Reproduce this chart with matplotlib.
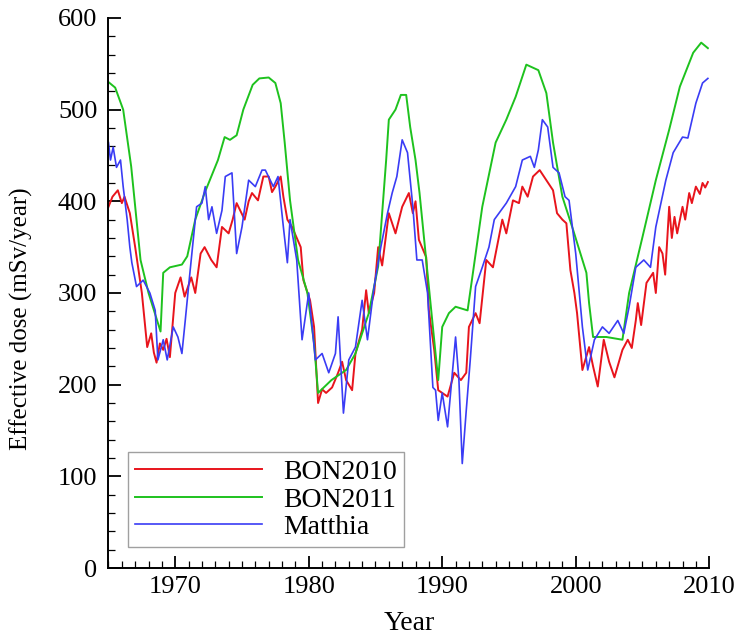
import matplotlib
matplotlib.use("Agg")
import matplotlib.pyplot as plt
from matplotlib.ticker import MultipleLocator

# === Donnees ===
bon2011_years = [1965.0, 1965.5, 1966.1, 1966.7, 1967.4, 1968.0, 1968.9, 1969.1, 1969.6, 1970.5,
                 1970.9, 1971.5, 1972.2, 1973.2, 1973.7, 1974.1, 1974.6, 1975.1, 1975.8, 1976.3,
                 1977.0, 1977.5, 1977.9, 1978.2, 1978.6, 1979.2, 1979.9, 1980.4, 1980.7, 1981.7,
                 1982.8, 1983.5, 1984.5, 1985.2, 1985.8, 1986.0, 1986.5, 1986.9, 1987.3, 1987.6,
                 1988.0, 1988.3, 1988.8, 1989.3, 1989.7, 1990.0, 1990.5, 1991.0, 1991.9, 1992.3,
                 1993.0, 1994.0, 1994.8, 1995.5, 1996.3, 1997.2, 1997.8, 1998.3, 1999.0, 1999.8,
                 2000.8, 2001.0, 2001.3, 2002.3, 2003.5, 2004.0, 2005.0, 2006.0, 2007.0, 2007.8,
                 2008.8, 2009.4, 2009.9]
bon2011_vals = [530, 524, 500, 438, 336, 300, 258, 322, 328, 331,
                340, 380, 409, 445, 470, 467, 472, 500, 527, 534,
                535, 529, 507, 464, 401, 336, 300, 245, 191, 205,
                216, 234, 278, 329, 445, 489, 500, 516, 516, 481,
                445, 409, 336, 263, 205, 263, 278, 285, 281, 322,
                394, 464, 489, 514, 549, 543, 518, 464, 405, 369,
                322, 289, 252, 252, 249, 300, 361, 423, 478, 525,
                562, 573, 567]

bon2010_years = [1965.0, 1965.3, 1965.7, 1966.0, 1966.2, 1966.6, 1967.0, 1967.5, 1967.9, 1968.2,
                 1968.4, 1968.6, 1968.85, 1969.1, 1969.35, 1969.6, 1970.0, 1970.4, 1970.7, 1971.2,
                 1971.5, 1971.9, 1972.2, 1972.7, 1973.1, 1973.5, 1974.0, 1974.3, 1974.6, 1975.2,
                 1975.5, 1975.75, 1976.2, 1976.6, 1977.0, 1977.25, 1977.5, 1977.9, 1978.1, 1978.4,
                 1978.75, 1979.1, 1979.4, 1979.6, 1980.1, 1980.4, 1980.7, 1981.0, 1981.3, 1981.75,
                 1982.2, 1982.5, 1982.8, 1983.25, 1983.5, 1984.0, 1984.3, 1984.5, 1984.9, 1985.2,
                 1985.5, 1986.0, 1986.5, 1987.0, 1987.5, 1987.8, 1988.0, 1988.25, 1988.8, 1989.0,
                 1989.4, 1989.7, 1990.4, 1990.9, 1991.4, 1991.8, 1992.0, 1992.5, 1992.8, 1993.3,
                 1993.8, 1994.5, 1994.8, 1995.3, 1995.75, 1996.0, 1996.4, 1996.8, 1997.3, 1997.8,
                 1998.3, 1998.6, 1999.0, 1999.3, 1999.6, 1999.9, 2000.1, 2000.5, 2001.0, 2001.3,
                 2001.65, 2002.1, 2002.5, 2002.9, 2003.5, 2003.9, 2004.2, 2004.5, 2004.65, 2004.9,
                 2005.3, 2005.8, 2006.0, 2006.25, 2006.5, 2006.7, 2007.0, 2007.2, 2007.4, 2007.6,
                 2008.0, 2008.2, 2008.5, 2008.7, 2009.0, 2009.3, 2009.5, 2009.7, 2009.9]
bon2010_vals = [394, 405, 412, 398, 405, 387, 350, 300, 241, 256,
                235, 224, 245, 238, 250, 230, 300, 317, 296, 317,
                300, 343, 350, 336, 328, 372, 365, 380, 398, 380,
                400, 409, 401, 427, 427, 410, 416, 427, 405, 380,
                372, 360, 350, 314, 292, 263, 180, 195, 191, 197,
                213, 225, 205, 194, 234, 260, 303, 278, 300, 350,
                330, 387, 365, 394, 409, 387, 400, 358, 339, 281,
                238, 194, 187, 213, 205, 213, 263, 278, 267, 336,
                328, 380, 365, 401, 398, 416, 405, 427, 434, 423,
                412, 387, 380, 376, 325, 300, 278, 216, 241, 220,
                198, 249, 225, 208, 238, 249, 240, 270, 289, 265,
                311, 322, 300, 350, 343, 320, 394, 360, 383, 365,
                394, 380, 409, 398, 416, 408, 420, 415, 421]

matthia_years = [1965.0, 1965.15, 1965.35, 1965.6, 1965.9, 1966.1, 1966.4, 1966.6, 1966.75, 1967.1,
                 1967.6, 1968.1, 1968.5, 1968.7, 1969.1, 1969.4, 1969.85, 1970.2, 1970.5, 1970.75,
                 1971.1, 1971.6, 1972.0, 1972.25, 1972.5, 1972.75, 1973.1, 1973.5, 1973.75, 1974.25,
                 1974.6, 1975.0, 1975.5, 1976.0, 1976.5, 1976.75, 1977.35, 1977.7, 1978.1, 1978.4,
                 1978.6, 1979.1, 1979.5, 1980.0, 1980.5, 1981.0, 1981.5, 1982.0, 1982.2, 1982.6,
                 1983.0, 1983.5, 1984.0, 1984.4, 1984.9, 1985.4, 1985.9, 1986.25, 1986.6, 1987.0,
                 1987.4, 1987.8, 1988.1, 1988.5, 1988.9, 1989.3, 1989.5, 1989.7, 1990.0, 1990.4,
                 1991.0, 1991.25, 1991.5, 1991.8, 1992.1, 1992.5, 1993.0, 1993.5, 1993.9, 1994.4,
                 1994.8, 1995.5, 1996.0, 1996.6, 1996.9, 1997.2, 1997.5, 1997.9, 1998.3, 1998.75,
                 1999.2, 1999.5, 2000.0, 2000.5, 2000.9, 2001.4, 2002.0, 2002.5, 2003.15, 2003.6,
                 2004.0, 2004.5, 2005.1, 2005.6, 2006.0, 2006.75, 2007.3, 2008.0, 2008.4, 2009.0,
                 2009.5, 2009.9]
matthia_vals = [464, 445, 459, 437, 445, 416, 380, 350, 333, 307,
                314, 300, 281, 227, 249, 227, 263, 252, 234, 270,
                322, 394, 398, 416, 380, 394, 365, 390, 427, 431,
                343, 372, 423, 416, 434, 434, 416, 427, 372, 333,
                380, 336, 249, 300, 227, 234, 213, 234, 274, 169,
                227, 241, 292, 249, 307, 350, 387, 409, 427, 467,
                453, 394, 336, 336, 300, 197, 194, 161, 191, 154,
                252, 205, 114, 172, 227, 307, 328, 350, 380, 390,
                398, 416, 445, 449, 437, 456, 489, 481, 437, 431,
                405, 401, 343, 263, 216, 249, 263, 256, 270, 256,
                285, 328, 336, 328, 372, 423, 453, 470, 469, 507,
                529, 534]

x_ticks = [1970, 1980, 1990, 2000, 2010]
y_ticks = [0, 100, 200, 300, 400, 500, 600]

plt.rcParams['font.family'] = ['Liberation Serif', 'DejaVu Serif']

fig = plt.figure(figsize=(7.38, 6.39), dpi=100)
ax = fig.add_axes([0.147, 0.111, 0.814, 0.861])

ax.plot(bon2010_years, bon2010_vals, color="#e8141c", lw=1.4, label="BON2010")
ax.plot(bon2011_years, bon2011_vals, color="#1ec21e", lw=1.4, label="BON2011")
ax.plot(matthia_years, matthia_vals, color="#3a3cf5", lw=1.2, label="Matthia")

ax.set_xlim(1965, 2010)
ax.set_ylim(0, 600)
ax.set_xticks(x_ticks)
ax.set_yticks(y_ticks)
ax.xaxis.set_minor_locator(MultipleLocator(1))
ax.yaxis.set_minor_locator(MultipleLocator(20))
ax.tick_params(which="major", direction="in", length=9, width=1.3, labelsize=19)
ax.tick_params(axis="x", which="major", pad=6)
ax.tick_params(axis="y", which="major", pad=8)
ax.tick_params(which="minor", direction="in", length=5, width=0.9)

for s in ["top", "right"]:
    ax.spines[s].set_visible(False)
for s in ["left", "bottom"]:
    ax.spines[s].set_linewidth(1.4)

ax.set_xlabel("Year", fontsize=20, labelpad=9)
ax.set_ylabel("Effective dose (mSv/year)", fontsize=18)
ax.yaxis.set_label_coords(-0.125, 0.453)

leg = ax.legend(loc="lower left", bbox_to_anchor=(0.032, 0.038), borderaxespad=0,
                fontsize=20, handlelength=4.6, handletextpad=0.75, labelspacing=0.08,
                fancybox=False, edgecolor="#888888", borderpad=0.25)
leg.get_frame().set_linewidth(1.0)

fig.savefig("out.png", dpi=100)
